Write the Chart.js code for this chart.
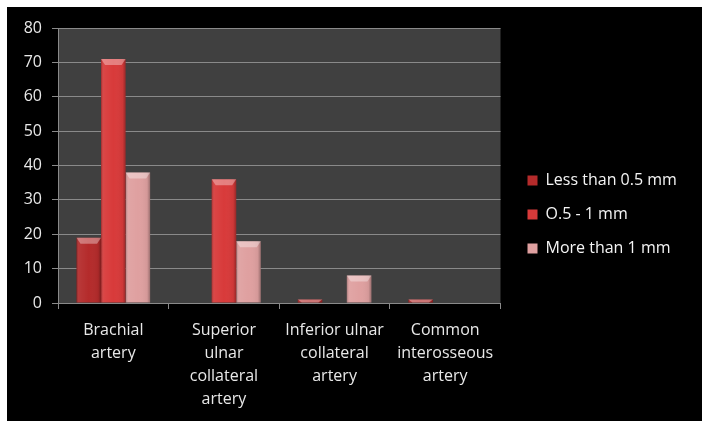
<!DOCTYPE html>
<html>
<head>
<meta charset="utf-8">
<script src="https://cdn.jsdelivr.net/npm/chart.js@4.4.0/dist/chart.umd.min.js"></script>
<style>
	html, body { margin: 0; padding: 0; background: #ffffff; }
	#wrap { position: absolute; left: 7px; top: 7px; width: 695px; height: 414px; background: #000000; }
</style>
</head>
<body>
<div id="wrap"><canvas id="bar-chartcanvas" width="695" height="414"></canvas></div>
<script>
// categories and values
var categories = [
	["Brachial", "artery"],
	["Superior", "ulnar", "collateral", "artery"],
	["Inferior ulnar", "collateral", "artery"],
	["Common", "interosseous", "artery"]
];
var lessThanHalf = [19, 0, 1, 1];
var halfToOne = [71, 36, 0, 0];
var moreThanOne = [38, 18, 8, 0];
var yTicks = [0, 10, 20, 30, 40, 50, 60, 70, 80];

var fontName = "'Open Sans', 'Liberation Sans', sans-serif";

// dark plot area behind the bars
var plotBackground = {
	id: "plotBackground",
	beforeDraw: function (chart) {
		var a = chart.chartArea;
		var c = chart.ctx;
		c.save();
		c.fillStyle = "#404040";
		c.fillRect(a.left, a.top, a.right - a.left, a.bottom - a.top);
		c.restore();
	}
};

// nudge the legend: a bit right of the plot and a bit higher
var legendShift = {
	id: "legendShift",
	afterLayout: function (chart) {
		var lg = chart.legend;
		if (!lg) return;
		lg.left += 9;
		lg.right = chart.width;
		lg.top -= 10;
		lg.bottom -= 10;
	}
};

// shading on each bar to give the bevelled look
var barShade = {
	id: "barShade",
	afterDatasetsDraw: function (chart) {
		var c = chart.ctx;
		chart.data.datasets.forEach(function (ds, i) {
			var meta = chart.getDatasetMeta(i);
			meta.data.forEach(function (bar) {
				var w = bar.width;
				var left = bar.x - w / 2;
				var top = Math.min(bar.y, bar.base);
				var h = Math.abs(bar.base - bar.y);
				if (h <= 0) return;
				c.save();
				var g = c.createLinearGradient(left, 0, left + w, 0);
				g.addColorStop(0, "rgba(0,0,0,0.25)");
				g.addColorStop(0.12, "rgba(255,255,255,0.06)");
				g.addColorStop(0.5, "rgba(255,255,255,0.0)");
				g.addColorStop(0.88, "rgba(0,0,0,0.05)");
				g.addColorStop(1, "rgba(0,0,0,0.3)");
				c.fillStyle = g;
				c.fillRect(left, top, w, h);
				var bev = Math.min(6, h);
				c.beginPath();
				c.moveTo(left, top);
				c.lineTo(left + w, top);
				c.lineTo(left + w - 4, top + bev);
				c.lineTo(left + 4, top + bev);
				c.closePath();
				c.fillStyle = "rgba(255,255,255,0.35)";
				c.fill();
				c.restore();
			});
		});
	}
};

var ctx = document.getElementById("bar-chartcanvas");

var data = {
	labels: categories,
	datasets: [{
			label: "Less than 0.5 mm",
			data: lessThanHalf,
			backgroundColor: "#b42b2b",
			borderWidth: 0,
			barPercentage: 1,
			categoryPercentage: 0.665
		},
		{
			label: "O.5 - 1 mm",
			data: halfToOne,
			backgroundColor: "#d83a3a",
			borderWidth: 0,
			barPercentage: 1,
			categoryPercentage: 0.665
		},
		{
			label: "More than 1 mm",
			data: moreThanOne,
			backgroundColor: "#dfa0a0",
			borderWidth: 0,
			barPercentage: 1,
			categoryPercentage: 0.665
		}
	]
};

var options = {
	responsive: false,
	animation: false,
	layout: {
		padding: { top: 21, left: 0, right: 37, bottom: 0 }
	},
	plugins: {
		legend: {
			display: true,
			position: "right",
			labels: {
				color: "#f4f4f4",
				font: { family: fontName, size: 16 },
				boxWidth: 10,
				boxHeight: 10,
				padding: 18
			}
		},
		tooltip: { enabled: false }
	},
	scales: {
		x: {
			grid: {
				display: true,
				offset: true,
				drawOnChartArea: false,
				color: "#8a8a8a",
				tickLength: 6
			},
			border: { color: "#8a8a8a" },
			ticks: {
				color: "#e8e8e8",
				font: { family: fontName, size: 16, lineHeight: 1.44 },
				padding: 10,
				maxRotation: 0,
				autoSkip: false
			},
			afterFit: function (scale) { scale.height = 118; }
		},
		y: {
			min: 0,
			max: 80,
			afterBuildTicks: function (scale) {
				scale.ticks = yTicks.map(function (v) { return { value: v }; });
			},
			grid: {
				color: "#8a8a8a",
				tickLength: 6
			},
			border: { color: "#8a8a8a" },
			ticks: {
				color: "#e8e8e8",
				font: { family: fontName, size: 16 },
				padding: 10
			},
			afterFit: function (scale) { scale.width = 51; }
		}
	}
};

var chart = new Chart(ctx, {
	type: "bar",
	data: data,
	options: options,
	plugins: [plotBackground, legendShift, barShade]
});
</script>
</body>
</html>
